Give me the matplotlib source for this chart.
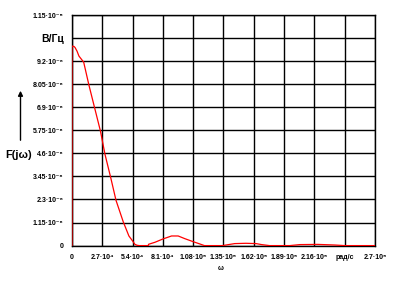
import matplotlib
matplotlib.use("Agg")
import matplotlib.pyplot as plt
import matplotlib.transforms as mtransforms

# --- data ---
omega = [0, 0, 1.8e3, 2.7e3, 4.45e3, 6.2e3, 1.04e4, 1.51e4, 2.02e4, 2.54e4, 2.94e4,
         3.45e4, 3.92e4, 4.57e4, 5.07e4, 5.4e4, 5.6e4, 5.8e4, 6.0e4, 6.8e4, 6.82e4,
         7.39e4, 8.1e4, 8.87e4, 9.46e4, 1.006e5, 1.08e5, 1.14e5, 1.18e5, 1.34e5,
         1.45e5, 1.55e5, 1.64e5, 1.69e5, 1.76e5, 1.94e5, 2.03e5, 2.19e5, 2.34e5,
         2.43e5, 2.7e5]
F = [0, 9.95e-6, 9.93e-6, 9.88e-6, 9.7e-6, 9.45e-6, 9.15e-6, 8.0e-6, 6.86e-6, 5.7e-6,
     4.55e-6, 3.39e-6, 2.26e-6, 1.18e-6, 4.8e-7, 2.3e-7, 6.5e-8, 1.5e-8, 0, 0, 6.5e-8,
     1.65e-7, 3.3e-7, 4.8e-7, 4.8e-7, 3.45e-7, 1.95e-7, 8e-8, 0, 0,
     1e-7, 1.15e-7, 1e-7, 5e-8, 0, 0, 5e-8, 6e-8, 3e-8, 0, 0]

x_ticks = [0, 2.7e4, 5.4e4, 8.1e4, 1.08e5, 1.35e5, 1.62e5, 1.89e5, 2.16e5, 2.43e5, 2.7e5]
x_labels = ["0", "2.7·10⁴", "5.4·10⁴", "8.1·10⁴", "1.08·10⁵", "1.35·10⁵", "1.62·10⁵",
            "1.89·10⁵", "2.16·10⁵", "рад/с", "2.7·10⁵"]
y_ticks = [0, 1.15e-6, 2.3e-6, 3.45e-6, 4.6e-6, 5.75e-6, 6.9e-6, 8.05e-6, 9.2e-6,
           1.035e-5, 1.15e-5]
y_labels = ["0", "1.15·10⁻⁶", "2.3·10⁻⁶", "3.45·10⁻⁶", "4.6·10⁻⁶", "5.75·10⁻⁶",
            "6.9·10⁻⁶", "8.05·10⁻⁶", "9.2·10⁻⁶", "В/Гц", "1.15·10⁻⁵"]

FAM = ["Liberation Sans", "DejaVu Sans"]

fig = plt.figure(figsize=(4.06, 2.82), dpi=100)
ax = fig.add_axes([72/406, 1-245.6/282, 303/406, 230.6/282])
ax.plot(omega, F, color="red", lw=0.9, zorder=3)
ax.set_xlim(0, 2.7e5)
ax.set_ylim(0, 1.15e-5)
ax.set_xticks(x_ticks)
ax.set_yticks(y_ticks)
ax.set_xticklabels(x_labels, family=FAM, weight="bold", fontsize=5)
ax.set_yticklabels(y_labels, family=FAM, weight="bold", fontsize=5)
for lab in ax.get_yticklabels():
    if lab.get_text() == "В/Гц":
        lab.set_fontsize(7.5)
        lab.set_transform(lab.get_transform() +
                          mtransforms.ScaledTranslation(0, -4/100, fig.dpi_scale_trans))
ax.tick_params(length=0, pad=6)
ax.grid(True, color="black", lw=1.0)
for s in ax.spines.values():
    s.set_color("black")
    s.set_linewidth(1.0)

fig.text(19/406, 1-155/282, "F(jω)", family=FAM, weight="bold", fontsize=8,
         ha="center", va="center")
fig.text(221/406, 1-268/282, "ω", family=FAM, weight="bold", fontsize=5,
         ha="center", va="center")
fig.add_artist(matplotlib.patches.FancyArrowPatch(
    (20.5/406, 1-143/282), (20.5/406, 1-88/282), transform=fig.transFigure,
    arrowstyle="-|>", mutation_scale=7, color="black", lw=1.0))

fig.savefig("out.png", dpi=100)
